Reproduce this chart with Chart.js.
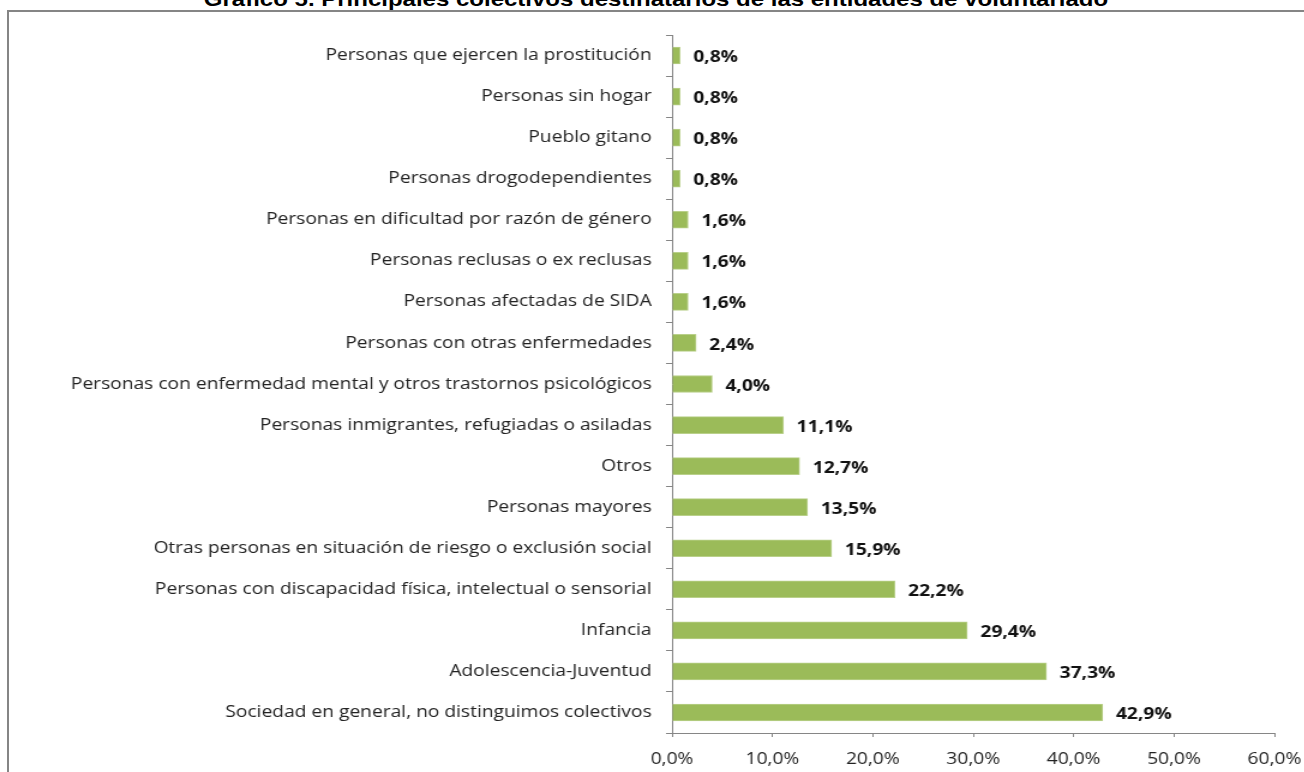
<!DOCTYPE html>
<html>
<head>
<meta charset="utf-8">
<script src="https://cdn.jsdelivr.net/npm/chart.js@4"></script>
<style>
  html, body { margin: 0; padding: 0; background: #fff; overflow: hidden; }
  #wrap { position: relative; width: 1304px; height: 772px; overflow: hidden; }
  #title { position: absolute; left: 0; width: 1312px; top: -12px; text-align: center;
    font: bold 20px "Liberation Sans", Arial, sans-serif; color: #000; white-space: nowrap;
    transform: scaleX(1.2); transform-origin: 656px 0; }
  #frame { position: absolute; left: 7px; top: 10px; width: 1400px; height: 900px;
    border-left: 2px solid #858585; border-top: 2px solid #858585; }
  #stretch { position: absolute; left: 0; top: 0; transform: scaleX(1.2); transform-origin: 0 0; }
</style>
</head>
<body>
<div id="wrap">
  <div id="title">Gráfico 5. Principales colectivos destinatarios de las entidades de voluntariado</div>
  <div id="frame"></div>
  <div id="stretch"><canvas id="c" width="1087" height="772"></canvas></div>
</div>
<script>
var colectivos = [
  'Personas que ejercen la prostitución',
  'Personas sin hogar',
  'Pueblo gitano',
  'Personas drogodependientes',
  'Personas en dificultad por razón de género',
  'Personas reclusas o ex reclusas',
  'Personas afectadas de SIDA',
  'Personas con otras enfermedades',
  'Personas con enfermedad mental y otros trastornos psicológicos',
  'Personas inmigrantes, refugiadas o asiladas',
  'Otros',
  'Personas mayores',
  'Otras personas en situación de riesgo o exclusión social',
  'Personas con discapacidad física, intelectual o sensorial',
  'Infancia',
  'Adolescencia-Juventud',
  'Sociedad en general, no distinguimos colectivos'
];
var porcentajes = [0.8, 0.8, 0.8, 0.8, 1.6, 1.6, 1.6, 2.4, 4.0, 11.1, 12.7, 13.5, 15.9, 22.2, 29.4, 37.3, 42.9];

function fmt(v, d) {
  return v.toFixed(d).replace('.', ',') + '%';
}

// etiquetas de valor al final de cada barra
var valueLabels = {
  id: 'valueLabels',
  afterDatasetsDraw: function(chart) {
    var ctx = chart.ctx;
    var meta = chart.getDatasetMeta(0);
    ctx.save();
    ctx.font = 'bold 16px "Open Sans", sans-serif';
    ctx.fillStyle = '#111';
    ctx.textAlign = 'left';
    ctx.textBaseline = 'middle';
    meta.data.forEach(function(bar, i) {
      ctx.fillText(fmt(porcentajes[i], 1), bar.x + 11, bar.y + 2);
    });
    ctx.restore();
  }
};

var ctx = document.getElementById('c');
var chart = new Chart(ctx, {
  type: 'bar',
  data: {
    labels: colectivos,
    datasets: [{
      data: porcentajes,
      backgroundColor: '#9bbb59',
      borderColor: '#b9d08a',
      borderWidth: 1,
      barThickness: 17
    }]
  },
  options: {
    indexAxis: 'y',
    responsive: false,
    animation: false,
    layout: { padding: { top: 35, right: 25, left: 0, bottom: 0 } },
    plugins: { legend: { display: false }, tooltip: { enabled: false }, title: { display: false } },
    scales: {
      x: {
        min: 0, max: 60,
        ticks: {
          stepSize: 10,
          padding: 13,
          color: '#222',
          font: { family: '"Open Sans", sans-serif', size: 16 },
          callback: function(v) { return fmt(v, 1); }
        },
        grid: { drawOnChartArea: false, tickLength: 4, color: '#868686' },
        border: { color: '#868686' },
        afterFit: function(s) { s.height = 39; s.paddingLeft = 0; s.paddingRight = 0; }
      },
      y: {
        ticks: {
          padding: 12,
          color: '#222',
          font: { family: '"Open Sans", sans-serif', size: 16 }
        },
        grid: { drawOnChartArea: false, tickLength: 5, color: '#868686', offset: true },
        border: { color: '#868686' },
        afterFit: function(s) { s.width = 560; }
      }
    }
  },
  plugins: [valueLabels]
});
</script>
</body>
</html>
